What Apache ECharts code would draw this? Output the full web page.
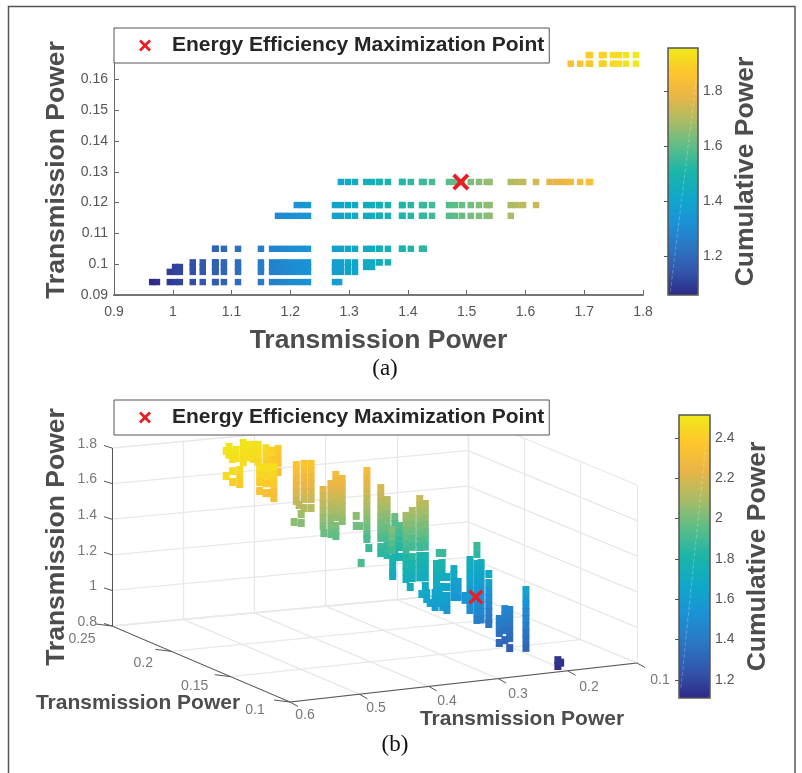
<!DOCTYPE html>
<html><head><meta charset="utf-8">
<style>html,body{margin:0;padding:0;background:#fff}#c{width:802px;height:773px}</style>
<script src="https://cdn.jsdelivr.net/npm/echarts@6/dist/echarts.min.js"></script>
</head><body><div id="c"></div>
<script>
// ---------- panel (a): rows of [x], [cumulative power] at one y ----------
const rowY = [0.0942, 0.0975, 0.0991, 0.1006, 0.105, 0.1157, 0.1192, 0.1267, 0.1651, 0.1679];
const rowX0 = [.965,.973,.995,1.004,1.012,1.034,1.051,1.072,1.073,1.087,1.111,1.15,1.169,1.179,1.189,1.199,1.21,1.22,1.23,1.276,1.283];
const rowC0 = [1.059,1.067,1.089,1.098,1.106,1.128,1.145,1.166,1.167,1.181,1.205,1.244,1.263,1.273,1.283,1.293,1.304,1.314,1.324,1.37,1.377];
const rowX1 = [.995,1.004,1.012,1.034,1.051,1.072,1.073,1.087,1.111,1.15,1.169,1.179,1.189,1.199,1.21,1.22,1.23,1.276,1.286,1.298,1.31];
const rowC1 = [1.093,1.102,1.11,1.132,1.149,1.17,1.171,1.185,1.209,1.248,1.267,1.277,1.287,1.297,1.308,1.318,1.328,1.374,1.384,1.396,1.408];
const rowX2 = [1.004,1.012,1.034,1.051,1.072,1.073,1.087,1.111,1.15,1.169,1.179,1.189,1.199,1.21,1.22,1.23,1.276,1.286,1.298,1.31,1.329,1.339];
const rowC2 = [1.103,1.111,1.133,1.15,1.171,1.172,1.186,1.21,1.249,1.268,1.278,1.288,1.298,1.309,1.319,1.329,1.375,1.385,1.397,1.409,1.428,1.438];
const rowX3 = [1.034,1.051,1.072,1.073,1.087,1.111,1.15,1.169,1.179,1.189,1.199,1.21,1.22,1.23,1.276,1.286,1.298,1.31,1.329,1.339,1.351,1.352,1.366];
const rowC3 = [1.135,1.152,1.173,1.174,1.188,1.212,1.251,1.27,1.28,1.29,1.3,1.311,1.321,1.331,1.377,1.387,1.399,1.411,1.43,1.44,1.452,1.453,1.467];
const rowX4 = [1.072,1.073,1.087,1.111,1.15,1.169,1.179,1.189,1.199,1.21,1.22,1.23,1.276,1.286,1.298,1.31,1.329,1.339,1.351,1.352,1.366,1.39,1.391,1.405,1.424,1.427];
const rowC4 = [1.177,1.178,1.192,1.216,1.255,1.274,1.284,1.294,1.304,1.315,1.325,1.335,1.381,1.391,1.403,1.415,1.434,1.444,1.456,1.457,1.471,1.495,1.496,1.51,1.529,1.532];
const rowX5 = [1.179,1.189,1.199,1.21,1.22,1.23,1.276,1.286,1.298,1.31,1.329,1.339,1.351,1.352,1.366,1.39,1.391,1.405,1.424,1.427,1.441,1.47,1.48,1.492,1.507,1.521,1.534,1.539,1.575];
const rowC5 = [1.295,1.305,1.315,1.326,1.336,1.346,1.392,1.402,1.414,1.426,1.445,1.455,1.467,1.468,1.482,1.506,1.507,1.521,1.54,1.543,1.557,1.586,1.596,1.608,1.623,1.637,1.65,1.655,1.691];
const rowX6 = [1.211,1.22,1.23,1.276,1.286,1.298,1.31,1.329,1.339,1.351,1.352,1.366,1.39,1.391,1.405,1.424,1.427,1.441,1.47,1.48,1.492,1.507,1.521,1.534,1.539,1.575,1.585,1.596,1.618];
const rowC6 = [1.33,1.339,1.349,1.395,1.405,1.417,1.429,1.448,1.458,1.47,1.471,1.485,1.509,1.51,1.524,1.543,1.546,1.56,1.589,1.599,1.611,1.626,1.64,1.653,1.658,1.694,1.704,1.715,1.737];
const rowX7 = [1.286,1.298,1.31,1.329,1.339,1.351,1.352,1.366,1.39,1.391,1.405,1.424,1.427,1.441,1.47,1.48,1.492,1.507,1.521,1.534,1.539,1.575,1.585,1.596,1.618,1.641,1.652,1.662,1.672,1.677,1.693,1.708,1.71];
const rowC7 = [1.413,1.425,1.437,1.456,1.466,1.478,1.479,1.493,1.517,1.518,1.532,1.551,1.554,1.568,1.597,1.607,1.619,1.634,1.648,1.661,1.666,1.702,1.712,1.723,1.745,1.768,1.779,1.789,1.799,1.804,1.82,1.835,1.837];
const rowX8 = [1.677,1.693,1.708,1.71,1.73,1.733,1.749,1.759,1.771,1.788];
const rowC8 = [1.842,1.858,1.873,1.875,1.895,1.898,1.914,1.924,1.936,1.953];
const rowX9 = [1.708,1.71,1.73,1.733,1.749,1.759,1.771,1.788];
const rowC9 = [1.876,1.878,1.898,1.901,1.917,1.927,1.939,1.956];
const rowsX = [rowX0,rowX1,rowX2,rowX3,rowX4,rowX5,rowX6,rowX7,rowX8,rowX9];
const rowsC = [rowC0,rowC1,rowC2,rowC3,rowC4,rowC5,rowC6,rowC7,rowC8,rowC9];
const optimumA = [1.49, 0.1267];
const xTicksA = [0.9,1,1.1,1.2,1.3,1.4,1.5,1.6,1.7,1.8];
const yTicksA = [0.09,0.1,0.11,0.12,0.13,0.14,0.15,0.16];
const barTicksA = [1.2,1.4,1.6,1.8];
const barTicksB = [1.2,1.4,1.6,1.8,2,2.2,2.4];

// ---------- panel (b): columns [x, y, [z...], [cumulative power...]] ----------
const barsHigh = [
[.456,.24,[1.758],[2.49]],
[.452,.24,[1.779,1.734],[2.49,2.48]],
[.447,.24,[1.743,1.709],[2.48,2.47]],
[.442,.24,[1.758,1.713],[2.49,2.47]],
[.432,.24,[1.794,1.754,1.714,1.686],[2.49,2.48,2.47,2.46]],
[.424,.24,[1.779,1.74,1.71],[2.49,2.48,2.47]],
[.418,.24,[1.778,1.738,1.699],[2.48,2.47,2.46]],
[.411,.24,[1.775,1.735,1.696,1.68],[2.48,2.47,2.46,2.45]],
[.4,.24,[1.752,1.714,1.669],[2.45,2.43,2.4]],
[.392,.24,[1.735,1.69,1.65],[2.42,2.39,2.37]],
[.383,.24,[1.742,1.702,1.663,1.612],[2.4,2.38,2.36,2.32]],
[.409,.24,[1.644,1.605,1.566,1.515],[2.47,2.44,2.4,2.35]],
[.4,.24,[1.646,1.601,1.556,1.5],[2.47,2.43,2.39,2.33]],
[.392,.24,[1.644,1.599,1.554,1.498],[2.47,2.43,2.39,2.33]],
[.389,.24,[1.642,1.597,1.552,1.507,1.468],[2.47,2.43,2.39,2.34,2.31]],
[.456,.24,[1.617],[2.46]],
[.447,.24,[1.641,1.58],[2.45,2.42]],
[.437,.24,[1.644,1.6,1.565],[2.45,2.42,2.4]]
];
const barsUpper = [
[.423,.2,[1.777,1.737,1.698,1.659,1.62,1.575],[2.36,2.32,2.28,2.24,2.2,2.16]],
[.419,.2,[1.551],[2.13]],
[.412,.2,[1.779,1.739,1.7,1.66,1.621,1.582,1.531],[2.36,2.32,2.28,2.24,2.2,2.17,2.12]],
[.402,.2,[1.775,1.735,1.696,1.657,1.617,1.578,1.527],[2.36,2.32,2.28,2.24,2.2,2.17,2.12]],
[.416,.2,[1.499,1.449],[2.08,2.03]],
[.426,.2,[1.458],[2.04]],
[.385,.2,[1.622,1.583,1.543,1.504,1.465,1.42],[2.22,2.18,2.14,2.1,2.06,2.02]],
[.374,.2,[1.651,1.612,1.572,1.533,1.494,1.454,1.415],[2.25,2.21,2.17,2.13,2.09,2.05,2.01]],
[.367,.2,[1.699,1.66,1.621,1.581,1.542,1.503,1.463,1.412],[2.3,2.26,2.22,2.18,2.14,2.1,2.06,2.01]],
[.358,.2,[1.673,1.634,1.594,1.555,1.516,1.476,1.437],[2.28,2.24,2.2,2.16,2.12,2.08,2.04]],
[.384,.2,[1.379],[1.98]],
[.374,.2,[1.37],[1.97]],
[.367,.2,[1.379,1.356],[1.98,1.96]],
[.323,.2,[1.704,1.664,1.624,1.584,1.544,1.504,1.464,1.424,1.384,1.344,1.322],[2.3,2.26,2.22,2.18,2.14,2.1,2.06,2.02,1.98,1.94,1.92]]
];
const barsMiddle = [
[.404,.16,[1.594,1.538],[2.04,1.99]],
[.399,.16,[1.535],[1.99]],
[.397,.16,[1.327],[1.92]],
[.386,.16,[1.406],[1.88]],
[.369,.16,[1.736,1.696,1.656,1.616,1.576,1.536,1.496,1.456],[2.2,2.16,2.12,2.08,2.04,2,1.96,1.92]],
[.36,.16,[1.665,1.625,1.585,1.545,1.505,1.465,1.44],[2.13,2.09,2.05,2.01,1.97,1.93,1.91]],
[.369,.16,[1.405,1.371],[1.88,1.85]],
[.36,.16,[1.401,1.356],[1.87,1.84]],
[.349,.16,[1.565,1.526,1.487,1.447,1.408,1.369,1.34],[1.98,1.94,1.9,1.86,1.83,1.8,1.78]],
[.353,.16,[1.494,1.455,1.415,1.381],[2.02,1.98,1.94,1.9]],
[.352,.16,[1.33,1.291,1.252,1.235],[1.8,1.77,1.74,1.72]],
[.342,.16,[1.512,1.472,1.433,1.394,1.338],[1.93,1.9,1.87,1.83,1.78]],
[.333,.16,[1.565,1.525,1.486,1.447,1.407,1.368],[2.08,2.04,2,1.96,1.92,1.89]],
[.333,.16,[1.329,1.289,1.25,1.21],[1.83,1.8,1.77,1.74]],
[.324,.16,[1.589,1.55,1.51,1.471,1.431,1.387],[2.1,2.06,2.02,1.98,1.94,1.9]],
[.324,.16,[1.33,1.291,1.252,1.212],[1.84,1.8,1.77,1.73]],
[.327,.16,[1.163],[1.73]]
];
const barsLower = [
[.363,.13,[1.754,1.714,1.674,1.634,1.594,1.554,1.514,1.484],[2.16,2.12,2.08,2.04,2,1.96,1.92,1.89]],
[.355,.13,[1.723,1.683,1.643,1.603,1.563,1.523,1.483],[2.13,2.09,2.05,2.01,1.97,1.93,1.89]],
[.363,.13,[1.434,1.394,1.354,1.314],[1.82,1.79,1.76,1.73]],
[.355,.13,[1.431,1.391,1.351,1.311,1.262],[1.8,1.77,1.74,1.71,1.67]],
[.36,.13,[1.219],[1.7]],
[.353,.13,[1.222,1.188],[1.68,1.65]],
[.348,.13,[1.164],[1.63]],
[.341,.13,[1.217,1.178,1.138],[1.66,1.63,1.6]],
[.339,.13,[1.379,1.34,1.3,1.261],[1.8,1.77,1.73,1.7]],
[.335,.13,[1.439],[1.88]],
[.33,.13,[1.437],[1.88]],
[.331,.13,[1.381,1.342,1.303,1.247],[1.8,1.77,1.73,1.68]],
[.335,.13,[1.22,1.181,1.158],[1.66,1.63,1.61]],
[.33,.13,[1.196,1.156,1.134],[1.65,1.62,1.6]],
[.324,.13,[1.3,1.243],[1.71,1.66]],
[.324,.13,[1.193,1.153,1.114],[1.63,1.6,1.56]],
[.314,.13,[1.34,1.307],[1.72,1.69]],
[.314,.13,[1.267,1.228,1.183],[1.62,1.6,1.56]],
[.308,.13,[1.265,1.225,1.18],[1.62,1.6,1.56]],
[.298,.13,[1.182,1.16],[1.56,1.54]],
[.291,.13,[1.381,1.341,1.301,1.262],[1.74,1.7,1.67,1.63]],
[.291,.13,[1.218,1.179,1.139,1.1],[1.6,1.57,1.54,1.5]],
[.281,.13,[1.456,1.411],[1.88,1.84]],
[.281,.13,[1.355,1.315,1.276,1.236,1.197,1.158,1.119,1.079,1.04],[1.72,1.68,1.64,1.6,1.56,1.53,1.5,1.47,1.43]],
[.275,.13,[1.357,1.318,1.279,1.24,1.2,1.16,1.12,1.08,1.04],[1.72,1.68,1.64,1.6,1.56,1.53,1.5,1.47,1.43]],
[.264,.13,[1.291,1.24],[1.68,1.63]],
[.264,.13,[1.196,1.156,1.117,1.078,1.038,1.01],[1.54,1.5,1.47,1.43,1.4,1.38]],
[.249,.13,[1.032,.993,.953,.897],[1.43,1.4,1.37,1.32]],
[.241,.13,[1.084,1.045,1.005,.966,.91],[1.47,1.44,1.4,1.37,1.32]],
[.234,.13,[1.076,1.036,.996,.957,.918,.862],[1.46,1.42,1.39,1.36,1.33,1.28]]
];
const barsLowest = [
[.26,.1,[1.28],[1.63]],
[.26,.1,[1.235,1.196,1.157,1.118,1.078,1.039,.999,.955],[1.56,1.52,1.48,1.45,1.42,1.38,1.35,1.31]],
[.214,.1,[.866,.833],[1.14,1.12]],
[.21,.1,[.85],[1.13]]
];
const optimumB = [0.295, 0.1225, 1.195];
const xTicksB = [0.1,0.2,0.3,0.4,0.5,0.6];
const yTicksB = [0.1,0.15,0.2,0.25];
const zTicksB = [0.8,1,1.2,1.4,1.6,1.8];

// ---------- shared text ----------
const POWER = 'Transmission Power', CUM = 'Cumulative Power', LEG = 'Energy Efficiency Maximization Point';
const SANS = '"Liberation Sans", Arial, sans-serif', SERIF = '"Liberation Serif", serif';
const parula = ['#2e2a86','#3258ad','#2a78c4','#1a93d6','#10a8c8','#1bb5a8','#5cbd88','#a8bc66','#e8b548','#fec52c','#efea18'];
const CROSS = 'path://M3.2,0 L10,6.8 L16.8,0 L20,3.2 L13.2,10 L20,16.8 L16.8,20 L10,13.2 L3.2,20 L0,16.8 L6.8,10 L0,3.2 Z';

// ---------- orthographic-like view of the 3-D box ----------
function project(x, y, z) {
  const u = (x - 0.1) / 0.5, v = (y - 0.1) / 0.15;
  return [637 - 347*u - 169*v - 9*u*v, 663 + 39*u - 70*v - 6*u*v - (z - 0.8) * 178];
}
const seg = (a, b) => ({coords: [a, b]});
const xL = .1, xH = .6, yL = .1, yH = .25, zL = .8, zH = 1.8;
const wallLines = [];
xTicksB.forEach(t => {
  wallLines.push(seg(project(t,yL,zL), project(t,yH,zL)));
  wallLines.push(seg(project(t,yH,zL), project(t,yH,zH)));
});
yTicksB.forEach(t => {
  wallLines.push(seg(project(xH,t,zL), project(xL,t,zL)));
  wallLines.push(seg(project(xL,t,zL), project(xL,t,zH)));
});
zTicksB.forEach(t => {
  wallLines.push(seg(project(xH,yH,t), project(xL,yH,t)));
  wallLines.push(seg(project(xL,yH,t), project(xL,yL,t)));
});
const add = (p, d) => [p[0]+d[0], p[1]+d[1]];
const boxLines = [
  seg(project(xH,yH,zL), project(xH,yH,zH)),
  seg(project(xH,yH,zL), project(xH,yL,zL)),
  seg(project(xH,yL,zL), project(xL,yL,zL))
];
zTicksB.forEach(t => { const p = project(xH,yH,t); boxLines.push(seg(p, add(p,[-8,-2.5]))); });
yTicksB.forEach(t => { const p = project(xH,t,zL); boxLines.push(seg(p, add(p,[-16,-2]))); });
xTicksB.forEach(t => { const p = project(t,yL,zL); boxLines.push(seg(p, add(p,[8,4.5]))); });

const tickLabel = (v, p, d, align) => ({value: add(p, d), name: String(v), label: {align: align}});
const yLabelShift = [[-35,8],[-36,9],[-28,12],[-30,13]];
const labels3D = [
  ...zTicksB.map(t => tickLabel(t, project(xH,yH,t), [-15,-4], 'right')),
  ...yTicksB.map((t, i) => tickLabel(t, project(xH,t,zL), yLabelShift[i], 'center')),
  ...xTicksB.map(t => tickLabel(t, project(t,yL,zL), [15 + (0.6-t)*16, 13 + (0.6-t)*8], 'center'))
];

const pointsA = [];
rowsX.forEach((xs, i) => xs.forEach((x, j) => pointsA.push([x, rowY[i], rowsC[i][j]])));
const pointsB = [];
[barsHigh, barsUpper, barsMiddle, barsLower, barsLowest].forEach(group =>
  group.forEach(b => b[2].forEach((z, j) => {
    const p = project(b[0], b[1], z);
    pointsB.push([p[0], p[1], b[3][j]]);
  })));

const tickStyle = {color: '#555', fontFamily: SANS, fontSize: 14};
const makeBarAxes = (gridIndex, min, max, ticks) => ({
  x: {gridIndex, type: 'value', min: 0, max: 1, show: false},
  y: {gridIndex, type: 'value', min, max, position: 'right', z: 6,
      name: CUM, nameLocation: 'middle', nameRotate: 90, nameGap: 34,
      nameTextStyle: {color: '#4d4d4d', fontFamily: SANS, fontWeight: 'bold', fontSize: 26.5},
      axisLine: {show: false},
      axisTick: {show: true, inside: true, length: 4, customValues: ticks, lineStyle: {color: '#555'}},
      axisLabel: {show: true, customValues: ticks, margin: 5, ...tickStyle},
      splitLine: {show: false}}
});
const barA = makeBarAxes(1, 1.058, 1.957, barTicksA);
const barB = makeBarAxes(3, 1.11, 2.514, barTicksB);

const legendCommon = {
  data: [LEG], orient: 'horizontal', left: 114, itemWidth: 12, itemHeight: 12,
  icon: CROSS, selectedMode: false, backgroundColor: '#fff', borderColor: '#555', borderWidth: 1,
  padding: [7, 5, 7, 25], z: 20, itemStyle: {opacity: 1},
  textStyle: {color: '#262626', fontFamily: SANS, fontWeight: 'bold', fontSize: 21, padding: [0, 0, 0, 16]}
};

const chart = echarts.init(document.getElementById('c'), null, {renderer: 'canvas'});
chart.setOption({
  animation: false,
  backgroundColor: '#fff',
  legend: [{...legendCommon, top: 28}, {...legendCommon, top: 400}],
  grid: [
    {left: 114, top: 28, width: 529, height: 267, containLabel: false},
    {left: 668, top: 48, width: 30, height: 247, show: true, borderColor: '#555', borderWidth: 1.5, backgroundColor: 'transparent', z: 5},
    {left: 0, top: 0, width: 802, height: 773},
    {left: 679, top: 415, width: 31, height: 283, show: true, borderColor: '#555', borderWidth: 1.5, backgroundColor: 'transparent', z: 5}
  ],
  xAxis: [
    {gridIndex: 0, type: 'value', min: 0.9, max: 1.8,
     name: POWER, nameLocation: 'middle', nameGap: 32,
     nameTextStyle: {color: '#4d4d4d', fontFamily: SANS, fontWeight: 'bold', fontSize: 26.5},
     axisLine: {onZero: false, lineStyle: {color: '#777', width: 2}},
     axisTick: {inside: true, length: 5, customValues: xTicksA, lineStyle: {color: '#666'}},
     axisLabel: {customValues: xTicksA, margin: 10, ...tickStyle},
     splitLine: {show: false}},
    barA.x,
    {gridIndex: 2, type: 'value', min: 0, max: 802, show: false},
    barB.x
  ],
  yAxis: [
    {gridIndex: 0, type: 'value', min: 0.09, max: 0.17669,
     name: POWER, nameLocation: 'middle', nameGap: 36,
     nameTextStyle: {color: '#4d4d4d', fontFamily: SANS, fontWeight: 'bold', fontSize: 26.5, padding: [0, 17, 0, 0]},
     axisLine: {onZero: false, lineStyle: {color: '#666', width: 1}},
     axisTick: {inside: true, length: 5, customValues: yTicksA, lineStyle: {color: '#666'}},
     axisLabel: {customValues: yTicksA, margin: 6, padding: [6, 0, 0, 0], ...tickStyle},
     splitLine: {show: false}},
    barA.y,
    {gridIndex: 2, type: 'value', min: 0, max: 773, inverse: true, show: false},
    barB.y
  ],
  visualMap: [
    {type: 'continuous', seriesIndex: 0, dimension: 2, min: 1.058, max: 1.957, left: 668, top: 48,
     itemWidth: 30, itemHeight: 247, padding: 0, calculable: false, hoverLink: false, z: 1,
     inRange: {color: parula}},
    {type: 'continuous', seriesIndex: 4, dimension: 2, min: 1.11, max: 2.514, left: 679, top: 415,
     itemWidth: 31, itemHeight: 283, padding: 0, calculable: false, hoverLink: false, z: 1,
     inRange: {color: parula}}
  ],
  series: [
    {type: 'scatter', xAxisIndex: 0, yAxisIndex: 0, symbol: 'rect', symbolSize: [6.5, 6.4], data: pointsA, silent: true, itemStyle: {opacity: 1}},
    {type: 'scatter', name: LEG, xAxisIndex: 0, yAxisIndex: 0, symbol: CROSS, symbolSize: 17, data: [optimumA], itemStyle: {color: '#ed1c24', opacity: 1}, z: 8},
    {type: 'lines', coordinateSystem: 'cartesian2d', xAxisIndex: 2, yAxisIndex: 2, data: wallLines, silent: true,
     lineStyle: {color: '#e8e8e8', width: 1.3, opacity: 1}, z: 1},
    {type: 'lines', coordinateSystem: 'cartesian2d', xAxisIndex: 2, yAxisIndex: 2, data: boxLines, silent: true,
     lineStyle: {color: '#555', width: 1, opacity: 1}, z: 1},
    {type: 'scatter', xAxisIndex: 2, yAxisIndex: 2, symbol: 'rect', symbolSize: [7, 8], data: pointsB, silent: true, itemStyle: {opacity: 1}, z: 3},
    {type: 'scatter', name: LEG, xAxisIndex: 2, yAxisIndex: 2, symbol: CROSS, symbolSize: 15,
     data: [project(optimumB[0], optimumB[1], optimumB[2])], itemStyle: {color: '#ed1c24', opacity: 1}, z: 8},
    {type: 'scatter', xAxisIndex: 2, yAxisIndex: 2, symbolSize: 0, data: labels3D, silent: true,
     label: {show: true, position: 'inside', formatter: '{b}', ...tickStyle}, z: 4},
    {type: 'line', xAxisIndex: 1, yAxisIndex: 1, data: [[0.08, 1.07], [0.95, 1.85]], showSymbol: false, silent: true,
     lineStyle: {color: '#fff', width: 1, opacity: 0.25, type: 'dashed'}, z: 7},
    {type: 'line', xAxisIndex: 3, yAxisIndex: 3, data: [[0.06, 1.16], [0.9, 2.42]], showSymbol: false, silent: true,
     lineStyle: {color: '#fff', width: 1, opacity: 0.25, type: 'dashed'}, z: 7}
  ],
  graphic: [
    {type: 'polyline', shape: {points: [[8.5, 773], [8.5, 6.5], [795, 6.5], [795, 773]]}, style: {fill: 'none', stroke: '#555', lineWidth: 1.5}, silent: true},
    {type: 'text', x: 385, y: 369, style: {text: '(a)', fill: '#111', font: '23px ' + SERIF, textAlign: 'center', textVerticalAlign: 'middle'}},
    {type: 'text', x: 395, y: 745, style: {text: '(b)', fill: '#111', font: '23px ' + SERIF, textAlign: 'center', textVerticalAlign: 'middle'}},
    {type: 'text', x: 57, y: 537, rotation: Math.PI / 2, style: {text: POWER, fill: '#4d4d4d', font: 'bold 26.5px ' + SANS, textAlign: 'center', textVerticalAlign: 'middle'}},
    {type: 'text', x: 138, y: 703, style: {text: POWER, fill: '#4d4d4d', font: 'bold 21px ' + SANS, textAlign: 'center', textVerticalAlign: 'middle'}},
    {type: 'text', x: 522, y: 719, style: {text: POWER, fill: '#4d4d4d', font: 'bold 21px ' + SANS, textAlign: 'center', textVerticalAlign: 'middle'}}
  ]
});
</script></body></html>
